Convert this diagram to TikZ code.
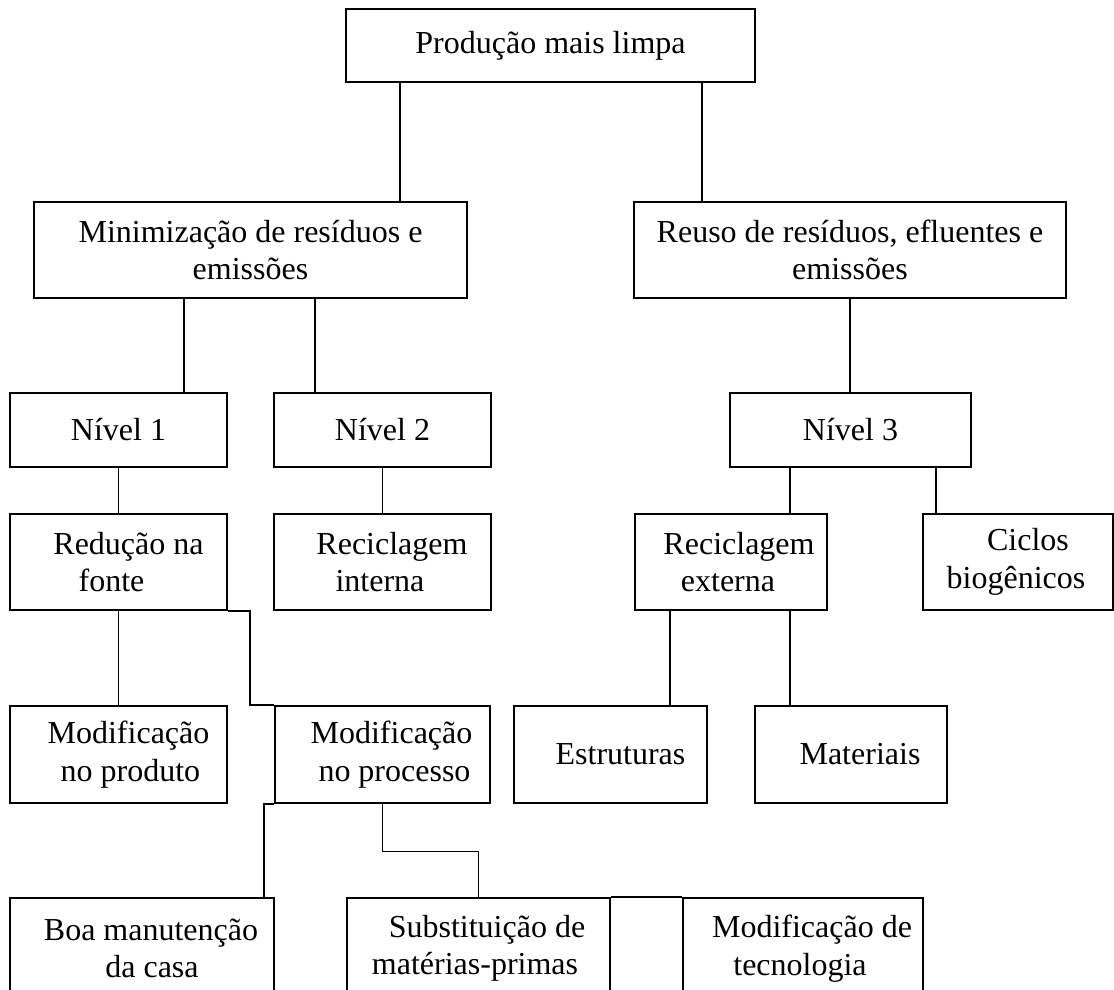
\documentclass[tikz,border=0pt]{standalone}
\usepackage{fontspec}
\setmainfont{Liberation Serif}
\usetikzlibrary{calc}
\newcommand\lsh[1]{\hspace*{#1pt}}
\begin{document}
\begin{tikzpicture}[x=1pt,y=-1pt,
  box/.style={draw, line width=1.6pt, rectangle, inner sep=0pt, align=center,
    font=\fontsize{32}{37.5}\selectfont},
  link/.style={line width=1.5pt}]
\useasboundingbox (0,0) rectangle (1114,989);
\clip (0,0) rectangle (1114,989);
% level 0
\node[box, minimum width=409pt, minimum height=73pt] (top) at (550.5,45.5) {Produção mais limpa};
% level 1
\node[box, minimum width=433pt, minimum height=96pt] (mini) at (250.5,250) {Minimização de resíduos e\\emissões};
\node[box, minimum width=432pt, minimum height=96pt] (reuso) at (850,250) {Reuso de resíduos, efluentes e\\emissões};
% level 2
\node[box, minimum width=217pt, minimum height=74pt] (n1) at (118.5,430) {Nível 1};
\node[box, minimum width=217pt, minimum height=74pt] (n2) at (382.5,430) {Nível 2};
\node[box, minimum width=241pt, minimum height=74pt] (n3) at (850.5,430) {Nível 3};
% level 3
\node[box, minimum width=217pt, minimum height=96pt] (red) at (118.5,562) {\lsh{20}Redução na\\\lsh{-14}fonte};
\node[box, minimum width=217pt, minimum height=96pt] (reci) at (382.5,562) {\lsh{19}Reciclagem\\\lsh{-5}interna};
\node[box, minimum width=192pt, minimum height=96pt] (rece) at (731,562) {\lsh{16}Reciclagem\\\lsh{-6}externa};
\node[box, minimum width=190pt, minimum height=96pt] (cicl) at (1018,562) {\lsh{20}Ciclos\\\lsh{-4}biogênicos};
% level 4
\node[box, minimum width=217pt, minimum height=97pt] (mprod) at (118.5,754.5) {\lsh{20}Modificação\\\lsh{24}no produto};
\node[box, minimum width=215pt, minimum height=97pt] (mproc) at (382.5,754.5) {\lsh{18}Modificação\\\lsh{24}no processo};
\node[box, minimum width=193pt, minimum height=97pt] (estr) at (610.5,754.5) {\lsh{20}Estruturas};
\node[box, minimum width=192pt, minimum height=97pt] (mat) at (851,754.5) {\lsh{18}Materiais};
% level 5 (cut by the page edge)
\node[box, minimum width=264pt, minimum height=101pt] (boa) at (142,948.5) {\lsh{18}Boa manutenção\\\lsh{20}da casa};
\node[box, minimum width=263pt, minimum height=101pt] (subs) at (478.5,948.5) {\lsh{17}Substituição de\\\lsh{-7}matérias-primas};
\node[box, minimum width=240pt, minimum height=101pt] (tec) at (803,948.5) {\lsh{18}Modificação de\\\lsh{-6}tecnologia};
% connectors
\draw[link] ([xshift=55pt]top.south west) -- ([xshift=55pt]top.south west |- mini.north);
\draw[link] ([xshift=-54pt]top.south east) -- ([xshift=-54pt]top.south east |- reuso.north);
\draw[link] ([xshift=151pt]mini.south west) -- ([xshift=151pt]mini.south west |- n1.north);
\draw[link] ([xshift=282pt]mini.south west) -- ([xshift=282pt]mini.south west |- n2.north);
\draw[link] (reuso.south) -- (reuso.south |- n3.north);
\draw[link] (n1.south) -- (red.north);
\draw[link] (n2.south) -- (reci.north);
\draw[link] ([xshift=61pt]n3.south west) -- ([xshift=61pt]n3.south west |- rece.north);
\draw[link] ([xshift=-36pt]n3.south east) -- ([xshift=-36pt]n3.south east |- cicl.north);
\draw[link] (red.south) -- (mprod.north);
\draw[link] (red.south east) -| ([xshift=-24pt]mproc.north west) -- (mproc.north west);
\draw[link] ([xshift=36pt]rece.south west) -- ([xshift=36pt]rece.south west |- estr.north);
\draw[link] ([xshift=156pt]rece.south west) -- ([xshift=156pt]rece.south west |- mat.north);
\draw[link] (mproc.south west) -| ([xshift=-11pt]boa.north east);
\draw[link] (mproc.south) -- ++(0,47.5) -| (subs.north);
\draw[link] (subs.north east) -- (tec.north west);
\end{tikzpicture}
\end{document}
